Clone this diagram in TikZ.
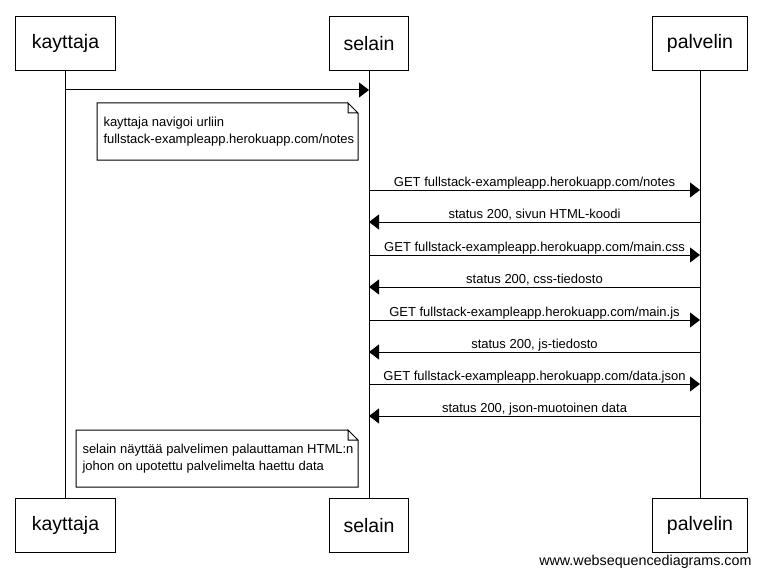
\documentclass[tikz,border=0pt]{standalone}
\usepackage{fontspec}
\setmainfont{Liberation Sans}
\usetikzlibrary{arrows.meta,calc}
\begin{document}
\begin{tikzpicture}[x=1pt,y=-1pt,line width=1pt,
  actor/.style={draw, minimum height=54pt, inner sep=0pt, font=\fontsize{19.5}{22}\selectfont, anchor=north west},
  msg/.style={-{Triangle[length=10pt,width=15pt]}},
  lbl/.style={font=\fontsize{13}{15}\selectfont, inner sep=0pt, anchor=base},
  notebox/.style={minimum width=#1, minimum height=56pt, inner sep=0pt, anchor=north west},
  notetext/.style={font=\fontsize{13}{17.5}\selectfont, align=left, inner sep=0pt, anchor=west}]
\useasboundingbox (0,0) rectangle (760,575);
% participants
\node[actor, minimum width=100pt] (kt) at (15,16) {kayttaja};
\node[actor, minimum width=79pt] (st) at (329,16) {selain};
\node[actor, minimum width=95pt] (pt) at (652,16) {palvelin};
\node[actor, minimum width=100pt] (kb) at (15,498) {kayttaja};
\node[actor, minimum width=79pt] (sb) at (329,498) {selain};
\node[actor, minimum width=95pt] (pb) at (652,498) {palvelin};
% lifelines
\draw (kt.south) -- (kb.north);
\draw (st.south) -- (sb.north);
\draw (pt.south) -- (pb.north);
% message endpoints
\coordinate (k1) at (kt.south |- 0,90);
\coordinate (s1) at (st.south |- 0,90);
\foreach \n/\y in {2/190,3/222,4/255,5/287,6/320,7/352,8/384,9/416}{
  \coordinate (s\n) at (st.south |- 0,\y);
  \coordinate (p\n) at (pt.south |- 0,\y);
}
\draw[msg] (k1) -- (s1);
% note 1
\node[notebox=260pt] (n1) at (97,103) {};
\draw ($(n1.north east)+(-10,0)$) -- (n1.north west) -- (n1.south west) -- (n1.south east) -- ($(n1.north east)+(0,10)$) -- ($(n1.north east)+(-10,0)$) -- ($(n1.north east)+(-10,10)$) -- ($(n1.north east)+(0,10)$);
\node[notetext] (t1) at ($(n1.west)+(6,0)$) {kayttaja navigoi urliin\\fullstack-exampleapp.herokuapp.com/notes};
% messages
\draw[msg] (s2) -- node[lbl, yshift=4pt] (l2) {GET fullstack-exampleapp.herokuapp.com/notes} (p2);
\draw[msg] (p3) -- node[lbl, yshift=4pt] (l3) {status 200, sivun HTML-koodi} (s3);
\draw[msg] (s4) -- node[lbl, yshift=4pt] (l4) {GET fullstack-exampleapp.herokuapp.com/main.css} (p4);
\draw[msg] (p5) -- node[lbl, yshift=4pt] (l5) {status 200, css-tiedosto} (s5);
\draw[msg] (s6) -- node[lbl, yshift=4pt] (l6) {GET fullstack-exampleapp.herokuapp.com/main.js} (p6);
\draw[msg] (p7) -- node[lbl, yshift=4pt] (l7) {status 200, js-tiedosto} (s7);
\draw[msg] (s8) -- node[lbl, yshift=4pt] (l8) {GET fullstack-exampleapp.herokuapp.com/data.json} (p8);
\draw[msg] (p9) -- node[lbl, yshift=4pt] (l9) {status 200, json-muotoinen data} (s9);
% note 2
\node[notebox=281pt] (n2) at (76,430) {};
\draw ($(n2.north east)+(-10,0)$) -- (n2.north west) -- (n2.south west) -- (n2.south east) -- ($(n2.north east)+(0,10)$) -- ($(n2.north east)+(-10,0)$) -- ($(n2.north east)+(-10,10)$) -- ($(n2.north east)+(0,10)$);
\node[notetext] (t2) at ($(n2.west)+(6,0)$) {selain näyttää palvelimen palauttaman HTML:n\\johon on upotettu palvelimelta haettu data};
% footer
\node[font=\fontsize{14.3}{16}\selectfont, inner sep=0pt, anchor=base east] (wm) at (752,565) {www.websequencediagrams.com};
\end{tikzpicture}
\end{document}
